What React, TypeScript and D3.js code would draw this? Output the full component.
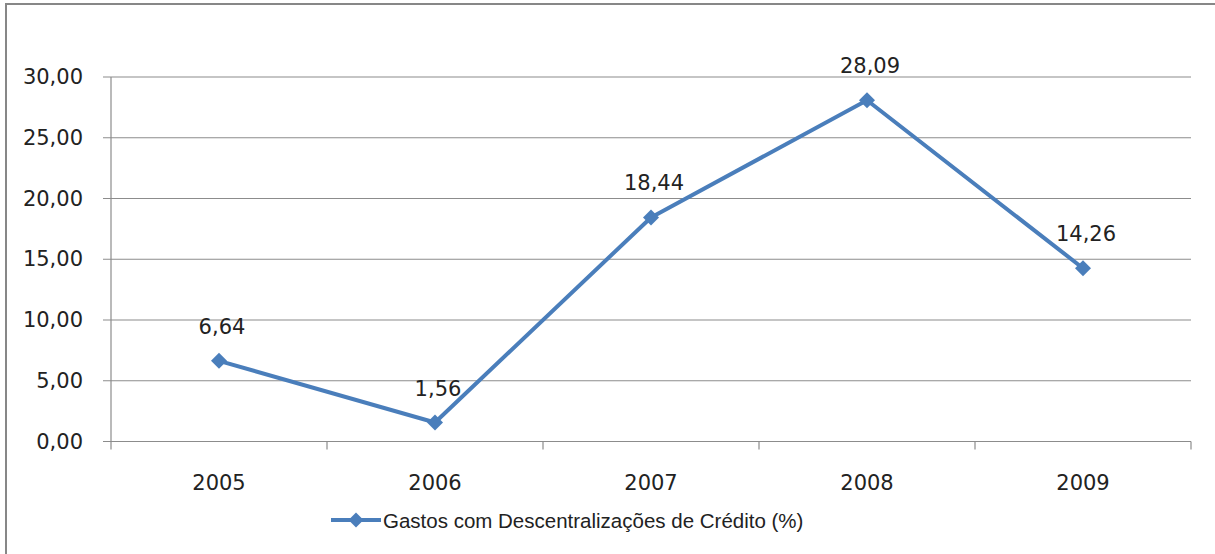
import React from "react";
import * as d3 from "d3";

const years = ["2005", "2006", "2007", "2008", "2009"];
const values = [6.64, 1.56, 18.44, 28.09, 14.26];
const yTicks = [0, 5, 10, 15, 20, 25, 30];
const seriesName = "Gastos com Descentralizações de Crédito (%)";

const W = 1215;
const H = 554;
const plot = { left: 111, right: 1191, top: 77, bottom: 441.5 };
const blue = "#4A7EBB";
const grid = "#8C8C8C";
const font = "'DejaVu Sans', Verdana, sans-serif";

const fmt = (v: number) => v.toFixed(2).replace(".", ",");

const Diamond = ({ x, y, r }: { x: number; y: number; r: number }) => (
  <path d={`M${x},${y - r}L${x + r},${y}L${x},${y + r}L${x - r},${y}Z`} fill={blue} />
);

export default function App() {
  const x = d3.scaleBand().domain(years).range([plot.left, plot.right]);
  const y = d3.scaleLinear().domain([0, 30]).range([plot.bottom, plot.top]);
  const cx = (d: string) => (x(d) ?? 0) + x.bandwidth() / 2;

  const line = d3
    .line<number>()
    .x((_, i) => cx(years[i]))
    .y((v) => y(v));

  // category boundaries for x tick marks
  const bounds = years.map((d) => x(d) ?? 0).concat([plot.right]);

  return (
    <svg width={W} height={H} style={{ position: "absolute", left: 0, top: 0, background: "#fff" }}>
      <rect x={6} y={4} width={W + 10} height={H + 10} fill="#fff" stroke="#878787" strokeWidth={2} />

      {/* gridlines + y ticks */}
      {yTicks.map((t) => (
        <g key={t}>
          <line x1={plot.left - 8} x2={plot.right} y1={y(t)} y2={y(t)} stroke={grid} strokeWidth={1.2} />
          <text
            x={83}
            y={y(t)}
            textAnchor="end"
            dominantBaseline="central"
            fontFamily={font}
            fontSize={21}
            fill="#222"
          >
            {fmt(t)}
          </text>
        </g>
      ))}

      {/* axes */}
      <line x1={plot.left} x2={plot.left} y1={plot.top} y2={plot.bottom} stroke={grid} strokeWidth={1.2} />
      {bounds.map((b, i) => (
        <line key={i} x1={b} x2={b} y1={plot.bottom} y2={plot.bottom + 8} stroke={grid} strokeWidth={1.2} />
      ))}
      {years.map((d) => (
        <text
          key={d}
          x={cx(d)}
          y={483}
          textAnchor="middle"
          dominantBaseline="central"
          fontFamily={font}
          fontSize={21}
          fill="#222"
        >
          {d}
        </text>
      ))}

      {/* series */}
      <path d={line(values) ?? ""} fill="none" stroke={blue} strokeWidth={4} strokeLinejoin="round" />
      {values.map((v, i) => (
        <g key={i}>
          <Diamond x={cx(years[i])} y={y(v)} r={8} />
          <text
            x={cx(years[i]) + 3}
            y={y(v) - 34}
            textAnchor="middle"
            dominantBaseline="central"
            fontFamily={font}
            fontSize={21}
            fill="#222"
          >
            {fmt(v)}
          </text>
        </g>
      ))}

      {/* legend */}
      <line x1={331} x2={381} y1={520} y2={520} stroke={blue} strokeWidth={4} />
      <Diamond x={356} y={520} r={7.5} />
      <text
        x={383}
        y={520}
        dominantBaseline="central"
        fontFamily="'Liberation Sans', Arial, sans-serif"
        fontSize={20.5}
        fill="#222"
      >
        {seriesName}
      </text>
    </svg>
  );
}
